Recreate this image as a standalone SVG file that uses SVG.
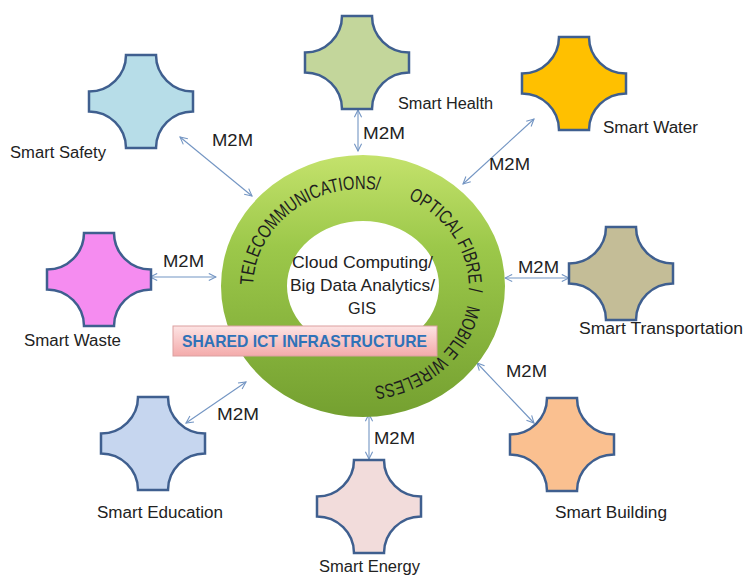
<svg xmlns="http://www.w3.org/2000/svg" xmlns:xlink="http://www.w3.org/1999/xlink" width="744" height="575" viewBox="0 0 744 575">
<defs>
<style>
.shape{stroke:#3f5f8f;stroke-width:2.5;stroke-linejoin:miter}
.lbl{font-family:"Liberation Sans",Arial,sans-serif;font-size:16px;fill:#222}
.m2m{font-family:"Liberation Sans",Arial,sans-serif;font-size:16px;fill:#222}
.conn{stroke:#7395c3;stroke-width:1.1;fill:none;marker-start:url(#ah);marker-end:url(#ah)}
.ring{font-family:"Liberation Sans",Arial,sans-serif;font-size:19px;fill:#1e1e1e}
.ctr{font-family:"Liberation Sans",Arial,sans-serif;font-size:17px;fill:#222}
</style>
<path id="plaque" d="M37,0 H67 A37,36.5 0 0 0 104,36.5 V56.5 A37,36.5 0 0 0 67,93 H37 A37,36.5 0 0 0 0,56.5 V36.5 A37,36.5 0 0 0 37,0 Z"/>
<marker id="ah" viewBox="0 0 10 10" refX="9" refY="5" markerWidth="9" markerHeight="9" markerUnits="userSpaceOnUse" orient="auto-start-reverse">
<path d="M1,1 L9,5 L1,9" fill="none" stroke="#7395c3" stroke-width="1.2"/>
</marker>
<linearGradient id="gRing" x1="0" y1="0" x2="0" y2="1">
<stop offset="0" stop-color="#c4e26c"/>
<stop offset="0.35" stop-color="#9cc84a"/>
<stop offset="1" stop-color="#74a030"/>
</linearGradient>
<linearGradient id="gBox" x1="0" y1="0" x2="0" y2="1">
<stop offset="0" stop-color="#fde4e4"/>
<stop offset="1" stop-color="#f3aaaa"/>
</linearGradient>
<path id="tp" d="M253,288 A108,99 0 1,1 469,288 A108,99 0 1,1 253,288"/>
</defs>
<rect width="744" height="575" fill="#ffffff"/>

<g id="connectors">
<line class="conn" x1="180" y1="137" x2="252" y2="196"/>
<line class="conn" x1="358" y1="110" x2="358" y2="151"/>
<line class="conn" x1="534" y1="119" x2="463" y2="184"/>
<line class="conn" x1="150" y1="277" x2="216" y2="277"/>
<line class="conn" x1="505" y1="278" x2="569" y2="278"/>
<line class="conn" x1="186" y1="423" x2="246" y2="382"/>
<line class="conn" x1="369" y1="414" x2="369" y2="459"/>
<line class="conn" x1="477" y1="363" x2="534" y2="423"/>
<text class="m2m" x="212" y="146" textLength="41" lengthAdjust="spacingAndGlyphs">M2M</text>
<text class="m2m" x="363" y="139" textLength="42" lengthAdjust="spacingAndGlyphs">M2M</text>
<text class="m2m" x="489" y="170" textLength="41" lengthAdjust="spacingAndGlyphs">M2M</text>
<text class="m2m" x="163" y="267" textLength="41" lengthAdjust="spacingAndGlyphs">M2M</text>
<text class="m2m" x="518" y="273" textLength="41" lengthAdjust="spacingAndGlyphs">M2M</text>
<text class="m2m" x="217" y="420" textLength="42" lengthAdjust="spacingAndGlyphs">M2M</text>
<text class="m2m" x="374" y="444" textLength="41" lengthAdjust="spacingAndGlyphs">M2M</text>
<text class="m2m" x="506" y="377" textLength="41" lengthAdjust="spacingAndGlyphs">M2M</text>
</g>

<g id="hub">
<path d="M221,286 A142,131 0 1,1 505,286 A142,131 0 1,1 221,286 Z M287,286 A76,65 0 1,0 439,286 A76,65 0 1,0 287,286 Z" fill="url(#gRing)" fill-rule="evenodd"/>
<text class="ring"><textPath xlink:href="#tp" href="#tp" startOffset="3" textLength="178" lengthAdjust="spacingAndGlyphs">TELECOMMUNICATIONS/</textPath></text>
<text class="ring"><textPath xlink:href="#tp" href="#tp" startOffset="211" textLength="118" lengthAdjust="spacingAndGlyphs">OPTICAL FIBRE /</textPath></text>
<text class="ring"><textPath xlink:href="#tp" href="#tp" startOffset="342" textLength="132" lengthAdjust="spacingAndGlyphs">MOBILE WIRELESS</textPath></text>
<text class="ctr" x="292" y="268" textLength="141" lengthAdjust="spacingAndGlyphs">Cloud Computing/</text>
<text class="ctr" x="290" y="291" textLength="145" lengthAdjust="spacingAndGlyphs">Big Data Analytics/</text>
<text class="ctr" x="348" y="314" textLength="28" lengthAdjust="spacingAndGlyphs">GIS</text>
</g>

<g id="infra-label">
<rect x="173" y="326" width="264" height="30" fill="url(#gBox)" stroke="#dba0a0" stroke-width="1"/>
<text x="182" y="347" textLength="245" lengthAdjust="spacingAndGlyphs" font-family="Liberation Sans, Arial, sans-serif" font-size="17" font-weight="bold" fill="#2f72b8">SHARED ICT INFRASTRUCTURE</text>
</g>

<g id="smart-safety">
<use href="#plaque" xlink:href="#plaque" x="89" y="55" class="shape" fill="#b7dde8"/>
<text class="lbl" x="10" y="158" textLength="96" lengthAdjust="spacingAndGlyphs">Smart Safety</text>
</g>
<g id="smart-health">
<use href="#plaque" xlink:href="#plaque" x="305" y="16" class="shape" fill="#c3d69b"/>
<text class="lbl" x="398" y="109" textLength="95" lengthAdjust="spacingAndGlyphs">Smart Health</text>
</g>
<g id="smart-water">
<use href="#plaque" xlink:href="#plaque" x="522" y="37" class="shape" fill="#ffc000"/>
<text class="lbl" x="603" y="133" textLength="95" lengthAdjust="spacingAndGlyphs">Smart Water</text>
</g>
<g id="smart-waste">
<use href="#plaque" xlink:href="#plaque" x="47" y="233" class="shape" fill="#f58cf0"/>
<text class="lbl" x="24" y="346" textLength="97" lengthAdjust="spacingAndGlyphs">Smart Waste</text>
</g>
<g id="smart-transportation">
<use href="#plaque" xlink:href="#plaque" x="569" y="227" class="shape" fill="#c4bd97"/>
<text class="lbl" x="579" y="334" textLength="164" lengthAdjust="spacingAndGlyphs">Smart Transportation</text>
</g>
<g id="smart-education">
<use href="#plaque" xlink:href="#plaque" x="101" y="397" class="shape" fill="#c6d6ef"/>
<text class="lbl" x="97" y="518" textLength="126" lengthAdjust="spacingAndGlyphs">Smart Education</text>
</g>
<g id="smart-energy">
<use href="#plaque" xlink:href="#plaque" x="317" y="460" class="shape" fill="#f2dcdb"/>
<text class="lbl" x="319" y="572" textLength="101" lengthAdjust="spacingAndGlyphs">Smart Energy</text>
</g>
<g id="smart-building">
<use href="#plaque" xlink:href="#plaque" x="510" y="398" class="shape" fill="#fac090"/>
<text class="lbl" x="555" y="518" textLength="112" lengthAdjust="spacingAndGlyphs">Smart Building</text>
</g>
</svg>
